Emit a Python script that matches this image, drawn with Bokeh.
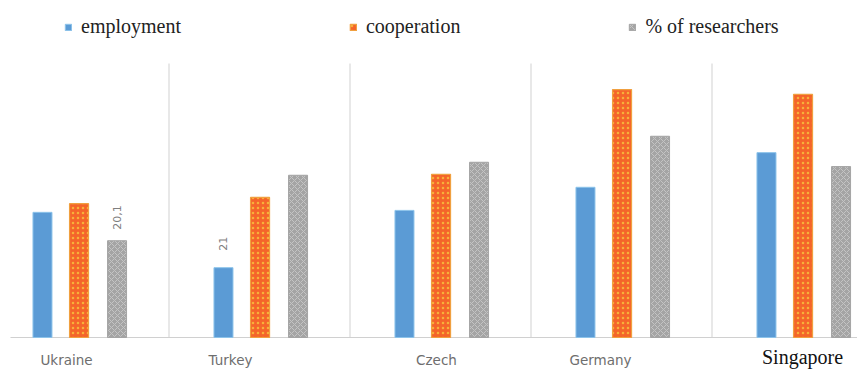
import math
from bokeh.plotting import figure
from bokeh.models import Range1d, ColumnDataSource, Legend, LegendItem
from bokeh.transform import dodge
from bokeh.core.properties import value
from bokeh.embed import file_html
from bokeh.resources import INLINE

# ---- data ----
countries = ["Ukraine", "Turkey", "Czech", "Germany", "Singapore"]
employment = [26.0, 14.5, 26.4, 31.2, 38.4]
cooperation = [27.8, 29.1, 33.9, 51.5, 50.5]
researchers = [20.1, 33.7, 36.4, 41.8, 35.5]
series_names = ["employment", "cooperation", "% of researchers"]
label_texts = ["20,1", "21"]
label_country = [0, 1]          # Ukraine (% of researchers), Turkey (employment)
label_values = [researchers[0], employment[1]]

# ---- styling / layout ----
W, H = 857, 369
PX = 181.0                      # pixels per category
Y_END = 70.0
Y_START = -Y_END * 32 / 337
OFF_B, OFF_O, OFF_G = -0.199, 0.003, 0.213
BW = 0.105

xs = list(range(len(countries)))
src = ColumnDataSource(dict(x=xs, employment=employment,
                            cooperation=cooperation, researchers=researchers))

p = figure(width=W, height=H, x_range=Range1d(-78 / PX, 779 / PX),
           y_range=Range1d(Y_START, Y_END), output_backend="svg",
           toolbar_location=None, min_border=0,
           x_axis_location=None, y_axis_location=None)
p.grid.visible = False
p.outline_line_color = None
p.background_fill_color = "white"
p.border_fill_color = "white"

# separators and baseline
p.segment(x0=[i + 0.5 for i in xs[:-1]], y0=0,
          x1=[i + 0.5 for i in xs[:-1]], y1=56.9,
          line_color="#D9D9D9", line_width=1.2)
p.segment(x0=[-68 / PX], y0=[0], x1=[779 / PX], y1=[0],
          line_color="#D0D0D0", line_width=1.2)

rb = p.vbar(x=dodge("x", OFF_B, range=p.x_range), top="employment", width=BW,
            source=src, fill_color="#5B9BD5", line_color="#8CC3EA", line_width=1)
ro = p.vbar(x=dodge("x", OFF_O, range=p.x_range), top="cooperation", width=BW,
            source=src, fill_color="#F4652A", line_color="#F0A040", line_width=1.2,
            hatch_pattern="dot", hatch_color="#F7B13A", hatch_scale=5, hatch_weight=1.5)
rg = p.vbar(x=dodge("x", OFF_G, range=p.x_range), top="researchers", width=BW,
            source=src, fill_color="#A4A4A4", line_color="#A4A4A4", line_width=1,
            hatch_pattern="diagonal_cross", hatch_color="#C4C4C4", hatch_scale=6,
            hatch_weight=1)

# category labels
sans_idx = [0, 1, 2, 3]
label_dx = [-12, -29, -4, -21]
p.text(x=[xs[i] for i in sans_idx], y=[0] * 4,
       text=[countries[i] for i in sans_idx],
       x_offset=label_dx, y_offset=22,
       text_font=value("DejaVu Sans"), text_font_size="13.5px",
       text_color="#6E6E6E", text_align="center", text_baseline="middle")
p.text(x=[xs[4]], y=[0], text=[countries[4]], x_offset=0, y_offset=19,
       text_font=value("Liberation Serif"), text_font_size="20px",
       text_color="#111111", text_align="center", text_baseline="middle")

# data labels (rotated)
lab_x = [label_country[0] + OFF_G, label_country[1] + OFF_B]
p.text(x=lab_x, y=label_values, text=label_texts, angle=math.pi / 2,
       x_offset=0, y_offset=[-11, -17],
       text_font=value("DejaVu Sans"), text_font_size="11px",
       text_color="#7F7F7F", text_align="left", text_baseline="middle")

legend = Legend(items=[LegendItem(label=series_names[0], renderers=[rb]),
                       LegendItem(label=series_names[1], renderers=[ro]),
                       LegendItem(label=series_names[2], renderers=[rg])],
                orientation="horizontal", location=(64, 331),
                spacing=168, glyph_width=8, glyph_height=8, label_standoff=9,
                padding=0, margin=0, border_line_color=None,
                background_fill_alpha=0,
                label_text_font="Liberation Serif", label_text_font_size="20px",
                label_text_color="#222222")
p.add_layout(legend)

open("out.html", "w").write(file_html(p, INLINE))
